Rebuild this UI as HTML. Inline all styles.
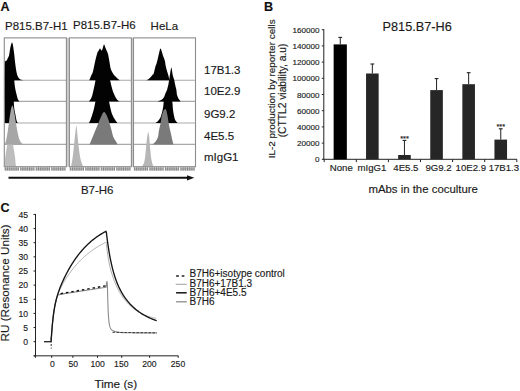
<!DOCTYPE html>
<html><head><meta charset="utf-8"><style>
html,body{margin:0;padding:0;background:#fff;}
svg{display:block;font-family:"Liberation Sans", sans-serif;}
text{stroke:#1a1a1a;stroke-width:0.15px;}
</style></head><body>
<svg width="520" height="391" viewBox="0 0 520 391">
<rect width="520" height="391" fill="#fff"/>
<text x="0.6" y="10.7" font-size="12.6" font-weight="bold" fill="#111">A</text>
<text x="5.0" y="29.6" font-size="11.5" fill="#1a1a1a">P815.B7-H1</text>
<text x="73.0" y="29.4" font-size="11.5" fill="#1a1a1a">P815.B7-H6</text>
<text x="150.6" y="29.7" font-size="11.5" fill="#1a1a1a">HeLa</text>
<rect x="66.4" y="37.9" width="3" height="128.79999999999998" fill="#cdcdcd"/>
<rect x="131.4" y="37.9" width="2.1" height="128.79999999999998" fill="#cdcdcd"/>
<defs>
<clipPath id="cb0"><rect x="4.3" y="37.9" width="62.10000000000001" height="128.79999999999998"/></clipPath>
<clipPath id="cb1"><rect x="69.4" y="37.9" width="62.0" height="128.79999999999998"/></clipPath>
<clipPath id="cb2"><rect x="133.5" y="37.9" width="62.0" height="128.79999999999998"/></clipPath>
</defs>
<line x1="4.3" y1="80.3" x2="66.4" y2="80.3" stroke="#a9a9a9" stroke-width="1.1"/>
<line x1="4.3" y1="101.4" x2="66.4" y2="101.4" stroke="#a9a9a9" stroke-width="1.1"/>
<line x1="4.3" y1="123.0" x2="66.4" y2="123.0" stroke="#a9a9a9" stroke-width="1.1"/>
<line x1="4.3" y1="144.4" x2="66.4" y2="144.4" stroke="#a9a9a9" stroke-width="1.1"/>
<line x1="69.4" y1="80.3" x2="131.4" y2="80.3" stroke="#a9a9a9" stroke-width="1.1"/>
<line x1="69.4" y1="101.4" x2="131.4" y2="101.4" stroke="#a9a9a9" stroke-width="1.1"/>
<line x1="69.4" y1="123.0" x2="131.4" y2="123.0" stroke="#a9a9a9" stroke-width="1.1"/>
<line x1="69.4" y1="144.4" x2="131.4" y2="144.4" stroke="#a9a9a9" stroke-width="1.1"/>
<line x1="133.5" y1="80.3" x2="195.5" y2="80.3" stroke="#a9a9a9" stroke-width="1.1"/>
<line x1="133.5" y1="101.4" x2="195.5" y2="101.4" stroke="#a9a9a9" stroke-width="1.1"/>
<line x1="133.5" y1="123.0" x2="195.5" y2="123.0" stroke="#a9a9a9" stroke-width="1.1"/>
<line x1="133.5" y1="144.4" x2="195.5" y2="144.4" stroke="#a9a9a9" stroke-width="1.1"/>
<g clip-path="url(#cb0)">
<path d="M4.30,80.30 C4.30,79.38 3.92,76.28 4.30,74.80 C4.68,73.32 5.93,73.70 6.60,71.40 C7.27,69.10 7.73,64.65 8.30,61.00 C8.87,57.35 9.52,52.28 10.00,49.50 C10.48,46.72 10.85,45.45 11.20,44.30 C11.55,43.15 11.82,42.50 12.10,42.60 C12.38,42.70 12.57,43.17 12.90,44.90 C13.23,46.63 13.72,49.93 14.10,53.00 C14.48,56.07 14.82,60.23 15.20,63.30 C15.58,66.37 15.92,69.10 16.40,71.40 C16.88,73.70 17.43,75.77 18.10,77.10 C18.77,78.43 19.43,78.87 20.40,79.40 C21.37,79.93 23.32,80.15 23.90,80.30 Z" fill="#030303"/>
<path d="M4.30,101.40 C4.30,95.50 3.85,72.90 4.30,66.00 C4.75,59.10 6.13,61.83 7.00,60.00 C7.87,58.17 8.78,56.17 9.50,55.00 C10.22,53.83 10.75,52.50 11.30,53.00 C11.85,53.50 12.40,55.50 12.80,58.00 C13.20,60.50 13.45,64.33 13.70,68.00 C13.95,71.67 14.15,77.33 14.30,80.00 C14.45,82.67 14.40,82.33 14.60,84.00 C14.80,85.67 15.15,88.17 15.50,90.00 C15.85,91.83 16.28,93.40 16.70,95.00 C17.12,96.60 17.53,98.53 18.00,99.60 C18.47,100.67 19.25,101.10 19.50,101.40 Z" fill="#030303"/>
<path d="M4.30,123.00 C4.30,117.50 3.85,96.17 4.30,90.00 C4.75,83.83 6.13,87.17 7.00,86.00 C7.87,84.83 8.78,83.67 9.50,83.00 C10.22,82.33 10.78,81.17 11.30,82.00 C11.82,82.83 12.25,85.67 12.60,88.00 C12.95,90.33 13.20,93.77 13.40,96.00 C13.60,98.23 13.65,99.28 13.80,101.40 C13.95,103.52 14.02,106.45 14.30,108.70 C14.58,110.95 15.10,112.85 15.50,114.90 C15.90,116.95 16.28,119.65 16.70,121.00 C17.12,122.35 17.78,122.67 18.00,123.00 Z" fill="#030303"/>
<path d="M4.30,166.70 C4.42,165.37 4.70,161.23 5.00,158.70 C5.30,156.17 5.75,153.72 6.10,151.50 C6.45,149.28 6.70,147.98 7.10,145.40 C7.50,142.82 7.88,139.07 8.50,136.00 C9.12,132.93 10.17,127.83 10.80,127.00 C11.43,126.17 11.90,127.93 12.30,131.00 C12.70,134.07 12.88,141.98 13.20,145.40 C13.52,148.82 13.87,149.28 14.20,151.50 C14.53,153.72 14.93,156.47 15.20,158.70 C15.47,160.93 15.62,163.57 15.80,164.90 C15.98,166.23 16.22,166.40 16.30,166.70 Z" fill="#bdbdbd"/>
<path d="M4.30,144.40 C4.33,144.32 4.28,144.25 4.50,143.90 C4.72,143.55 5.17,143.75 5.60,142.30 C6.03,140.85 6.60,138.08 7.10,135.20 C7.60,132.32 8.03,128.87 8.60,125.00 C9.17,121.13 9.87,115.23 10.50,112.00 C11.13,108.77 11.78,105.60 12.40,105.60 C13.02,105.60 13.55,108.77 14.20,112.00 C14.85,115.23 15.70,121.47 16.30,125.00 C16.90,128.53 17.30,130.82 17.80,133.20 C18.30,135.58 18.62,137.60 19.30,139.30 C19.98,141.00 20.68,142.55 21.90,143.40 C23.12,144.25 25.82,144.23 26.60,144.40 Z" fill="#a6a6a6"/>
</g>
<g clip-path="url(#cb1)">
<path d="M89.30,80.30 C89.58,79.58 90.40,77.42 91.00,76.00 C91.60,74.58 92.23,74.13 92.90,71.80 C93.57,69.47 94.27,65.13 95.00,62.00 C95.73,58.87 96.72,54.83 97.30,53.00 C97.88,51.17 98.05,51.75 98.50,51.00 C98.95,50.25 99.50,48.58 100.00,48.50 C100.50,48.42 101.08,50.42 101.50,50.50 C101.92,50.58 102.08,49.98 102.50,49.00 C102.92,48.02 103.50,44.77 104.00,44.60 C104.50,44.43 104.83,46.43 105.50,48.00 C106.17,49.57 107.33,51.67 108.00,54.00 C108.67,56.33 109.03,59.50 109.50,62.00 C109.97,64.50 110.22,67.08 110.80,69.00 C111.38,70.92 112.30,72.33 113.00,73.50 C113.70,74.67 114.25,75.17 115.00,76.00 C115.75,76.83 116.72,77.78 117.50,78.50 C118.28,79.22 119.33,80.00 119.70,80.30 Z" fill="#030303"/>
<path d="M89.00,101.40 C89.45,100.67 90.95,98.90 91.70,97.00 C92.45,95.10 92.92,92.50 93.50,90.00 C94.08,87.50 94.62,85.00 95.20,82.00 C95.78,79.00 96.28,75.17 97.00,72.00 C97.72,68.83 98.67,65.33 99.50,63.00 C100.33,60.67 101.17,58.50 102.00,58.00 C102.83,57.50 103.67,58.50 104.50,60.00 C105.33,61.50 106.25,64.50 107.00,67.00 C107.75,69.50 108.42,72.50 109.00,75.00 C109.58,77.50 109.92,79.50 110.50,82.00 C111.08,84.50 111.68,87.50 112.50,90.00 C113.32,92.50 114.57,95.33 115.40,97.00 C116.23,98.67 116.82,99.27 117.50,100.00 C118.18,100.73 119.17,101.17 119.50,101.40 Z" fill="#030303"/>
<path d="M89.00,123.00 C89.23,122.50 89.87,121.38 90.40,120.00 C90.93,118.62 91.60,116.63 92.20,114.70 C92.80,112.77 93.48,110.48 94.00,108.40 C94.52,106.32 94.88,104.27 95.30,102.20 C95.72,100.13 95.88,98.03 96.50,96.00 C97.12,93.97 98.08,91.50 99.00,90.00 C99.92,88.50 101.00,87.17 102.00,87.00 C103.00,86.83 104.08,87.83 105.00,89.00 C105.92,90.17 106.80,91.80 107.50,94.00 C108.20,96.20 108.70,99.80 109.20,102.20 C109.70,104.60 110.05,106.47 110.50,108.40 C110.95,110.33 111.30,112.15 111.90,113.80 C112.50,115.45 113.28,116.88 114.10,118.30 C114.92,119.72 116.23,121.52 116.80,122.30 C117.37,123.08 117.38,122.88 117.50,123.00 Z" fill="#030303"/>
<path d="M89.60,144.40 C90.03,143.33 91.27,140.27 92.20,138.00 C93.13,135.73 94.18,133.25 95.20,130.80 C96.22,128.35 97.27,125.75 98.30,123.30 C99.33,120.85 100.58,117.88 101.40,116.10 C102.22,114.32 102.70,113.28 103.20,112.60 C103.70,111.92 104.00,111.83 104.40,112.00 C104.80,112.17 105.17,112.92 105.60,113.60 C106.03,114.28 106.33,114.48 107.00,116.10 C107.67,117.72 108.83,120.90 109.60,123.30 C110.37,125.70 111.02,128.32 111.60,130.50 C112.18,132.68 112.42,134.67 113.10,136.40 C113.78,138.13 114.93,139.57 115.70,140.90 C116.47,142.23 117.37,143.82 117.70,144.40 Z" fill="#7a7a7a"/>
<path d="M71.10,166.70 C71.20,166.08 71.40,164.85 71.70,163.00 C72.00,161.15 72.50,158.68 72.90,155.60 C73.30,152.52 73.68,148.38 74.10,144.50 C74.52,140.62 75.03,135.47 75.40,132.30 C75.77,129.13 76.00,125.50 76.30,125.50 C76.60,125.50 76.85,129.13 77.20,132.30 C77.55,135.47 77.98,140.82 78.40,144.50 C78.82,148.18 79.28,151.73 79.70,154.40 C80.12,157.07 80.50,158.87 80.90,160.50 C81.30,162.13 81.70,163.17 82.10,164.20 C82.50,165.23 83.10,166.28 83.30,166.70 Z" fill="#b6b6b6"/>
</g>
<g clip-path="url(#cb2)">
<path d="M146.00,80.30 C146.33,80.17 147.33,79.92 148.00,79.50 C148.67,79.08 149.33,78.47 150.00,77.80 C150.67,77.13 151.40,76.17 152.00,75.50 C152.60,74.83 153.03,75.28 153.60,73.80 C154.17,72.32 154.88,68.40 155.40,66.60 C155.92,64.80 156.27,64.48 156.70,63.00 C157.13,61.52 157.58,59.45 158.00,57.70 C158.42,55.95 158.80,54.03 159.20,52.50 C159.60,50.97 160.02,48.83 160.40,48.50 C160.78,48.17 161.15,49.58 161.50,50.50 C161.85,51.42 162.18,52.95 162.50,54.00 C162.82,55.05 163.02,55.73 163.40,56.80 C163.78,57.87 164.42,58.92 164.80,60.40 C165.18,61.88 165.33,63.92 165.70,65.70 C166.07,67.48 166.55,69.45 167.00,71.10 C167.45,72.75 168.03,74.25 168.40,75.60 C168.77,76.95 169.00,78.42 169.20,79.20 C169.40,79.98 169.53,80.12 169.60,80.30 Z" fill="#030303"/>
<path d="M157.70,101.40 C158.35,101.13 160.57,100.50 161.60,99.80 C162.63,99.10 163.22,98.38 163.90,97.20 C164.58,96.02 165.18,93.90 165.70,92.70 C166.22,91.50 166.70,90.78 167.00,90.00 C167.30,89.22 167.27,88.92 167.50,88.00 C167.73,87.08 168.12,85.90 168.40,84.50 C168.68,83.10 168.92,81.38 169.20,79.60 C169.48,77.82 169.75,75.82 170.10,73.80 C170.45,71.78 170.98,68.10 171.30,67.50 C171.62,66.90 171.75,68.85 172.00,70.20 C172.25,71.55 172.43,73.97 172.80,75.60 C173.17,77.23 173.75,78.22 174.20,80.00 C174.65,81.78 175.13,84.63 175.50,86.30 C175.87,87.97 176.17,88.63 176.40,90.00 C176.63,91.37 176.60,93.17 176.90,94.50 C177.20,95.83 177.62,96.88 178.20,98.00 C178.78,99.12 179.93,100.63 180.40,101.20 C180.87,101.77 180.90,101.37 181.00,101.40 Z" fill="#030303"/>
<path d="M155.40,123.00 C155.83,122.65 157.12,121.92 158.00,120.90 C158.88,119.88 159.95,118.62 160.70,116.90 C161.45,115.18 162.05,112.55 162.50,110.60 C162.95,108.65 163.15,106.97 163.40,105.20 C163.65,103.43 163.57,101.53 164.00,100.00 C164.43,98.47 165.25,96.83 166.00,96.00 C166.75,95.17 167.75,94.83 168.50,95.00 C169.25,95.17 169.85,95.75 170.50,97.00 C171.15,98.25 172.02,100.68 172.40,102.50 C172.78,104.32 172.58,105.95 172.80,107.90 C173.02,109.85 173.33,112.27 173.70,114.20 C174.07,116.13 174.47,118.17 175.00,119.50 C175.53,120.83 176.48,121.62 176.90,122.20 C177.32,122.78 177.40,122.87 177.50,123.00 Z" fill="#030303"/>
<path d="M152.50,144.40 C152.95,144.00 154.30,143.20 155.20,142.00 C156.10,140.80 157.28,139.07 157.90,137.20 C158.52,135.33 158.45,133.12 158.90,130.80 C159.35,128.48 160.15,125.63 160.60,123.30 C161.05,120.97 161.17,118.78 161.60,116.80 C162.03,114.82 162.65,112.65 163.20,111.40 C163.75,110.15 164.42,109.57 164.90,109.30 C165.38,109.03 165.67,108.73 166.10,109.80 C166.53,110.87 167.00,113.10 167.50,115.70 C168.00,118.30 168.55,122.53 169.10,125.40 C169.65,128.27 170.25,130.40 170.80,132.90 C171.35,135.40 171.97,138.48 172.40,140.40 C172.83,142.32 173.23,143.73 173.40,144.40 Z" fill="#7a7a7a"/>
<path d="M141.60,166.70 C141.92,166.25 142.93,165.45 143.50,164.00 C144.07,162.55 144.53,161.17 145.00,158.00 C145.47,154.83 145.93,148.50 146.30,145.00 C146.67,141.50 146.88,139.18 147.20,137.00 C147.52,134.82 147.87,131.90 148.20,131.90 C148.53,131.90 148.85,133.98 149.20,137.00 C149.55,140.02 149.92,146.17 150.30,150.00 C150.68,153.83 151.00,157.22 151.50,160.00 C152.00,162.78 153.00,165.58 153.30,166.70 Z" fill="#b6b6b6"/>
</g>
<rect x="4.3" y="37.9" width="62.10000000000001" height="128.79999999999998" fill="none" stroke="#8c8c8c" stroke-width="1.1"/>
<rect x="69.4" y="37.9" width="62.0" height="128.79999999999998" fill="none" stroke="#8c8c8c" stroke-width="1.1"/>
<rect x="133.5" y="37.9" width="62.0" height="128.79999999999998" fill="none" stroke="#8c8c8c" stroke-width="1.1"/>
<rect x="4.80" y="167.29999999999998" width="14.03" height="3.3" fill="#b8b8b8"/>
<line x1="5.20" y1="167.29999999999998" x2="5.20" y2="170.6" stroke="#787878" stroke-width="0.8"/>
<line x1="7.40" y1="167.29999999999998" x2="7.40" y2="170.6" stroke="#787878" stroke-width="0.8"/>
<line x1="9.60" y1="167.29999999999998" x2="9.60" y2="170.6" stroke="#787878" stroke-width="0.8"/>
<line x1="11.80" y1="167.29999999999998" x2="11.80" y2="170.6" stroke="#787878" stroke-width="0.8"/>
<line x1="14.00" y1="167.29999999999998" x2="14.00" y2="170.6" stroke="#787878" stroke-width="0.8"/>
<line x1="16.20" y1="167.29999999999998" x2="16.20" y2="170.6" stroke="#787878" stroke-width="0.8"/>
<line x1="18.40" y1="167.29999999999998" x2="18.40" y2="170.6" stroke="#787878" stroke-width="0.8"/>
<rect x="20.33" y="167.29999999999998" width="14.02" height="3.3" fill="#b8b8b8"/>
<line x1="20.73" y1="167.29999999999998" x2="20.73" y2="170.6" stroke="#787878" stroke-width="0.8"/>
<line x1="22.93" y1="167.29999999999998" x2="22.93" y2="170.6" stroke="#787878" stroke-width="0.8"/>
<line x1="25.12" y1="167.29999999999998" x2="25.12" y2="170.6" stroke="#787878" stroke-width="0.8"/>
<line x1="27.32" y1="167.29999999999998" x2="27.32" y2="170.6" stroke="#787878" stroke-width="0.8"/>
<line x1="29.52" y1="167.29999999999998" x2="29.52" y2="170.6" stroke="#787878" stroke-width="0.8"/>
<line x1="31.72" y1="167.29999999999998" x2="31.72" y2="170.6" stroke="#787878" stroke-width="0.8"/>
<line x1="33.92" y1="167.29999999999998" x2="33.92" y2="170.6" stroke="#787878" stroke-width="0.8"/>
<rect x="35.85" y="167.29999999999998" width="14.02" height="3.3" fill="#b8b8b8"/>
<line x1="36.25" y1="167.29999999999998" x2="36.25" y2="170.6" stroke="#787878" stroke-width="0.8"/>
<line x1="38.45" y1="167.29999999999998" x2="38.45" y2="170.6" stroke="#787878" stroke-width="0.8"/>
<line x1="40.65" y1="167.29999999999998" x2="40.65" y2="170.6" stroke="#787878" stroke-width="0.8"/>
<line x1="42.85" y1="167.29999999999998" x2="42.85" y2="170.6" stroke="#787878" stroke-width="0.8"/>
<line x1="45.05" y1="167.29999999999998" x2="45.05" y2="170.6" stroke="#787878" stroke-width="0.8"/>
<line x1="47.25" y1="167.29999999999998" x2="47.25" y2="170.6" stroke="#787878" stroke-width="0.8"/>
<line x1="49.45" y1="167.29999999999998" x2="49.45" y2="170.6" stroke="#787878" stroke-width="0.8"/>
<rect x="51.38" y="167.29999999999998" width="14.03" height="3.3" fill="#b8b8b8"/>
<line x1="51.77" y1="167.29999999999998" x2="51.77" y2="170.6" stroke="#787878" stroke-width="0.8"/>
<line x1="53.98" y1="167.29999999999998" x2="53.98" y2="170.6" stroke="#787878" stroke-width="0.8"/>
<line x1="56.18" y1="167.29999999999998" x2="56.18" y2="170.6" stroke="#787878" stroke-width="0.8"/>
<line x1="58.38" y1="167.29999999999998" x2="58.38" y2="170.6" stroke="#787878" stroke-width="0.8"/>
<line x1="60.58" y1="167.29999999999998" x2="60.58" y2="170.6" stroke="#787878" stroke-width="0.8"/>
<line x1="62.78" y1="167.29999999999998" x2="62.78" y2="170.6" stroke="#787878" stroke-width="0.8"/>
<line x1="64.98" y1="167.29999999999998" x2="64.98" y2="170.6" stroke="#787878" stroke-width="0.8"/>
<rect x="69.90" y="167.29999999999998" width="14.00" height="3.3" fill="#b8b8b8"/>
<line x1="70.30" y1="167.29999999999998" x2="70.30" y2="170.6" stroke="#787878" stroke-width="0.8"/>
<line x1="72.50" y1="167.29999999999998" x2="72.50" y2="170.6" stroke="#787878" stroke-width="0.8"/>
<line x1="74.70" y1="167.29999999999998" x2="74.70" y2="170.6" stroke="#787878" stroke-width="0.8"/>
<line x1="76.90" y1="167.29999999999998" x2="76.90" y2="170.6" stroke="#787878" stroke-width="0.8"/>
<line x1="79.10" y1="167.29999999999998" x2="79.10" y2="170.6" stroke="#787878" stroke-width="0.8"/>
<line x1="81.30" y1="167.29999999999998" x2="81.30" y2="170.6" stroke="#787878" stroke-width="0.8"/>
<line x1="83.50" y1="167.29999999999998" x2="83.50" y2="170.6" stroke="#787878" stroke-width="0.8"/>
<rect x="85.40" y="167.29999999999998" width="14.00" height="3.3" fill="#b8b8b8"/>
<line x1="85.80" y1="167.29999999999998" x2="85.80" y2="170.6" stroke="#787878" stroke-width="0.8"/>
<line x1="88.00" y1="167.29999999999998" x2="88.00" y2="170.6" stroke="#787878" stroke-width="0.8"/>
<line x1="90.20" y1="167.29999999999998" x2="90.20" y2="170.6" stroke="#787878" stroke-width="0.8"/>
<line x1="92.40" y1="167.29999999999998" x2="92.40" y2="170.6" stroke="#787878" stroke-width="0.8"/>
<line x1="94.60" y1="167.29999999999998" x2="94.60" y2="170.6" stroke="#787878" stroke-width="0.8"/>
<line x1="96.80" y1="167.29999999999998" x2="96.80" y2="170.6" stroke="#787878" stroke-width="0.8"/>
<line x1="99.00" y1="167.29999999999998" x2="99.00" y2="170.6" stroke="#787878" stroke-width="0.8"/>
<rect x="100.90" y="167.29999999999998" width="14.00" height="3.3" fill="#b8b8b8"/>
<line x1="101.30" y1="167.29999999999998" x2="101.30" y2="170.6" stroke="#787878" stroke-width="0.8"/>
<line x1="103.50" y1="167.29999999999998" x2="103.50" y2="170.6" stroke="#787878" stroke-width="0.8"/>
<line x1="105.70" y1="167.29999999999998" x2="105.70" y2="170.6" stroke="#787878" stroke-width="0.8"/>
<line x1="107.90" y1="167.29999999999998" x2="107.90" y2="170.6" stroke="#787878" stroke-width="0.8"/>
<line x1="110.10" y1="167.29999999999998" x2="110.10" y2="170.6" stroke="#787878" stroke-width="0.8"/>
<line x1="112.30" y1="167.29999999999998" x2="112.30" y2="170.6" stroke="#787878" stroke-width="0.8"/>
<line x1="114.50" y1="167.29999999999998" x2="114.50" y2="170.6" stroke="#787878" stroke-width="0.8"/>
<rect x="116.40" y="167.29999999999998" width="14.00" height="3.3" fill="#b8b8b8"/>
<line x1="116.80" y1="167.29999999999998" x2="116.80" y2="170.6" stroke="#787878" stroke-width="0.8"/>
<line x1="119.00" y1="167.29999999999998" x2="119.00" y2="170.6" stroke="#787878" stroke-width="0.8"/>
<line x1="121.20" y1="167.29999999999998" x2="121.20" y2="170.6" stroke="#787878" stroke-width="0.8"/>
<line x1="123.40" y1="167.29999999999998" x2="123.40" y2="170.6" stroke="#787878" stroke-width="0.8"/>
<line x1="125.60" y1="167.29999999999998" x2="125.60" y2="170.6" stroke="#787878" stroke-width="0.8"/>
<line x1="127.80" y1="167.29999999999998" x2="127.80" y2="170.6" stroke="#787878" stroke-width="0.8"/>
<line x1="130.00" y1="167.29999999999998" x2="130.00" y2="170.6" stroke="#787878" stroke-width="0.8"/>
<rect x="134.00" y="167.29999999999998" width="14.00" height="3.3" fill="#b8b8b8"/>
<line x1="134.40" y1="167.29999999999998" x2="134.40" y2="170.6" stroke="#787878" stroke-width="0.8"/>
<line x1="136.60" y1="167.29999999999998" x2="136.60" y2="170.6" stroke="#787878" stroke-width="0.8"/>
<line x1="138.80" y1="167.29999999999998" x2="138.80" y2="170.6" stroke="#787878" stroke-width="0.8"/>
<line x1="141.00" y1="167.29999999999998" x2="141.00" y2="170.6" stroke="#787878" stroke-width="0.8"/>
<line x1="143.20" y1="167.29999999999998" x2="143.20" y2="170.6" stroke="#787878" stroke-width="0.8"/>
<line x1="145.40" y1="167.29999999999998" x2="145.40" y2="170.6" stroke="#787878" stroke-width="0.8"/>
<line x1="147.60" y1="167.29999999999998" x2="147.60" y2="170.6" stroke="#787878" stroke-width="0.8"/>
<rect x="149.50" y="167.29999999999998" width="14.00" height="3.3" fill="#b8b8b8"/>
<line x1="149.90" y1="167.29999999999998" x2="149.90" y2="170.6" stroke="#787878" stroke-width="0.8"/>
<line x1="152.10" y1="167.29999999999998" x2="152.10" y2="170.6" stroke="#787878" stroke-width="0.8"/>
<line x1="154.30" y1="167.29999999999998" x2="154.30" y2="170.6" stroke="#787878" stroke-width="0.8"/>
<line x1="156.50" y1="167.29999999999998" x2="156.50" y2="170.6" stroke="#787878" stroke-width="0.8"/>
<line x1="158.70" y1="167.29999999999998" x2="158.70" y2="170.6" stroke="#787878" stroke-width="0.8"/>
<line x1="160.90" y1="167.29999999999998" x2="160.90" y2="170.6" stroke="#787878" stroke-width="0.8"/>
<line x1="163.10" y1="167.29999999999998" x2="163.10" y2="170.6" stroke="#787878" stroke-width="0.8"/>
<rect x="165.00" y="167.29999999999998" width="14.00" height="3.3" fill="#b8b8b8"/>
<line x1="165.40" y1="167.29999999999998" x2="165.40" y2="170.6" stroke="#787878" stroke-width="0.8"/>
<line x1="167.60" y1="167.29999999999998" x2="167.60" y2="170.6" stroke="#787878" stroke-width="0.8"/>
<line x1="169.80" y1="167.29999999999998" x2="169.80" y2="170.6" stroke="#787878" stroke-width="0.8"/>
<line x1="172.00" y1="167.29999999999998" x2="172.00" y2="170.6" stroke="#787878" stroke-width="0.8"/>
<line x1="174.20" y1="167.29999999999998" x2="174.20" y2="170.6" stroke="#787878" stroke-width="0.8"/>
<line x1="176.40" y1="167.29999999999998" x2="176.40" y2="170.6" stroke="#787878" stroke-width="0.8"/>
<line x1="178.60" y1="167.29999999999998" x2="178.60" y2="170.6" stroke="#787878" stroke-width="0.8"/>
<rect x="180.50" y="167.29999999999998" width="14.00" height="3.3" fill="#b8b8b8"/>
<line x1="180.90" y1="167.29999999999998" x2="180.90" y2="170.6" stroke="#787878" stroke-width="0.8"/>
<line x1="183.10" y1="167.29999999999998" x2="183.10" y2="170.6" stroke="#787878" stroke-width="0.8"/>
<line x1="185.30" y1="167.29999999999998" x2="185.30" y2="170.6" stroke="#787878" stroke-width="0.8"/>
<line x1="187.50" y1="167.29999999999998" x2="187.50" y2="170.6" stroke="#787878" stroke-width="0.8"/>
<line x1="189.70" y1="167.29999999999998" x2="189.70" y2="170.6" stroke="#787878" stroke-width="0.8"/>
<line x1="191.90" y1="167.29999999999998" x2="191.90" y2="170.6" stroke="#787878" stroke-width="0.8"/>
<line x1="194.10" y1="167.29999999999998" x2="194.10" y2="170.6" stroke="#787878" stroke-width="0.8"/>
<text x="204.0" y="73.9" font-size="11.5" fill="#1a1a1a">17B1.3</text>
<text x="204.0" y="94.8" font-size="11.5" fill="#1a1a1a">10E2.9</text>
<text x="204.0" y="117.7" font-size="11.5" fill="#1a1a1a">9G9.2</text>
<text x="204.0" y="139.7" font-size="11.5" fill="#1a1a1a">4E5.5</text>
<text x="204.0" y="160.9" font-size="11.5" fill="#1a1a1a">mIgG1</text>
<line x1="8.5" y1="177.8" x2="188" y2="177.8" stroke="#111" stroke-width="1.9"/>
<path d="M187,175.2 L194.3,177.8 L187,180.4 Z" fill="#111"/>
<text x="80.9" y="193.8" font-size="11.5" fill="#1a1a1a">B7-H6</text>
<text x="264.0" y="10.5" font-size="12.6" font-weight="bold" fill="#111">B</text>
<text x="382.6" y="30.9" font-size="12.7" fill="#1a1a1a">P815.B7-H6</text>
<line x1="323.8" y1="29.200000000000017" x2="323.8" y2="159.3" stroke="#222" stroke-width="1"/>
<line x1="321.8" y1="159.30" x2="323.8" y2="159.30" stroke="#222" stroke-width="1"/>
<text x="319.5" y="162.30" font-size="8.1" text-anchor="end" fill="#1a1a1a">0</text>
<line x1="321.8" y1="143.10" x2="323.8" y2="143.10" stroke="#222" stroke-width="1"/>
<text x="319.5" y="146.10" font-size="8.1" text-anchor="end" fill="#1a1a1a">20000</text>
<line x1="321.8" y1="126.90" x2="323.8" y2="126.90" stroke="#222" stroke-width="1"/>
<text x="319.5" y="129.90" font-size="8.1" text-anchor="end" fill="#1a1a1a">40000</text>
<line x1="321.8" y1="110.70" x2="323.8" y2="110.70" stroke="#222" stroke-width="1"/>
<text x="319.5" y="113.70" font-size="8.1" text-anchor="end" fill="#1a1a1a">60000</text>
<line x1="321.8" y1="94.50" x2="323.8" y2="94.50" stroke="#222" stroke-width="1"/>
<text x="319.5" y="97.50" font-size="8.1" text-anchor="end" fill="#1a1a1a">80000</text>
<line x1="321.8" y1="78.30" x2="323.8" y2="78.30" stroke="#222" stroke-width="1"/>
<text x="319.5" y="81.30" font-size="8.1" text-anchor="end" fill="#1a1a1a">100000</text>
<line x1="321.8" y1="62.10" x2="323.8" y2="62.10" stroke="#222" stroke-width="1"/>
<text x="319.5" y="65.10" font-size="8.1" text-anchor="end" fill="#1a1a1a">120000</text>
<line x1="321.8" y1="45.90" x2="323.8" y2="45.90" stroke="#222" stroke-width="1"/>
<text x="319.5" y="48.90" font-size="8.1" text-anchor="end" fill="#1a1a1a">140000</text>
<line x1="321.8" y1="29.70" x2="323.8" y2="29.70" stroke="#222" stroke-width="1"/>
<text x="319.5" y="32.70" font-size="8.1" text-anchor="end" fill="#1a1a1a">160000</text>
<line x1="323.3" y1="159.3" x2="516.9" y2="159.3" stroke="#222" stroke-width="1"/>
<line x1="324.20" y1="159.3" x2="324.20" y2="162.10000000000002" stroke="#222" stroke-width="1"/>
<line x1="356.30" y1="159.3" x2="356.30" y2="162.10000000000002" stroke="#222" stroke-width="1"/>
<line x1="388.40" y1="159.3" x2="388.40" y2="162.10000000000002" stroke="#222" stroke-width="1"/>
<line x1="420.50" y1="159.3" x2="420.50" y2="162.10000000000002" stroke="#222" stroke-width="1"/>
<line x1="452.60" y1="159.3" x2="452.60" y2="162.10000000000002" stroke="#222" stroke-width="1"/>
<line x1="484.70" y1="159.3" x2="484.70" y2="162.10000000000002" stroke="#222" stroke-width="1"/>
<line x1="516.80" y1="159.3" x2="516.80" y2="162.10000000000002" stroke="#222" stroke-width="1"/>
<line x1="340.25" y1="37.4" x2="340.25" y2="44.4" stroke="#222" stroke-width="1"/>
<line x1="338.35" y1="37.4" x2="342.15" y2="37.4" stroke="#222" stroke-width="1.1"/>
<rect x="333.65" y="44.4" width="13.2" height="114.90" fill="#000"/>
<text x="341.30" y="170.7" font-size="9.65" text-anchor="middle" fill="#1a1a1a">None</text>
<line x1="372.35" y1="64.0" x2="372.35" y2="73.5" stroke="#222" stroke-width="1"/>
<line x1="370.45" y1="64.0" x2="374.25" y2="64.0" stroke="#222" stroke-width="1.1"/>
<rect x="366.05" y="73.5" width="12.6" height="85.80" fill="#262626"/>
<text x="372.00" y="170.7" font-size="9.65" text-anchor="middle" fill="#1a1a1a">mIgG1</text>
<line x1="404.45" y1="140.4" x2="404.45" y2="155.0" stroke="#222" stroke-width="1"/>
<line x1="402.55" y1="140.4" x2="406.35" y2="140.4" stroke="#222" stroke-width="1.1"/>
<rect x="398.15" y="155.0" width="12.6" height="4.30" fill="#262626"/>
<text x="405.90" y="170.7" font-size="9.65" text-anchor="middle" fill="#1a1a1a">4E5.5</text>
<text x="404.45" y="140.50" font-size="7.4" text-anchor="middle" fill="#1a1a1a">***</text>
<line x1="436.55" y1="78.6" x2="436.55" y2="90.1" stroke="#222" stroke-width="1"/>
<line x1="434.65" y1="78.6" x2="438.45" y2="78.6" stroke="#222" stroke-width="1.1"/>
<rect x="430.25" y="90.1" width="12.6" height="69.20" fill="#262626"/>
<text x="438.50" y="170.7" font-size="9.65" text-anchor="middle" fill="#1a1a1a">9G9.2</text>
<line x1="468.65" y1="72.7" x2="468.65" y2="84.2" stroke="#222" stroke-width="1"/>
<line x1="466.75" y1="72.7" x2="470.55" y2="72.7" stroke="#222" stroke-width="1.1"/>
<rect x="462.35" y="84.2" width="12.6" height="75.10" fill="#262626"/>
<text x="470.80" y="170.7" font-size="9.65" text-anchor="middle" fill="#1a1a1a">10E2.9</text>
<line x1="500.75" y1="128.8" x2="500.75" y2="139.6" stroke="#222" stroke-width="1"/>
<line x1="498.85" y1="128.8" x2="502.65" y2="128.8" stroke="#222" stroke-width="1.1"/>
<rect x="494.45" y="139.6" width="12.6" height="19.70" fill="#262626"/>
<text x="503.90" y="170.7" font-size="9.65" text-anchor="middle" fill="#1a1a1a">17B1.3</text>
<text x="500.75" y="128.90" font-size="7.4" text-anchor="middle" fill="#1a1a1a">***</text>
<text x="368.4" y="192.6" font-size="11.4" fill="#1a1a1a">mAbs in the coculture</text>
<text transform="translate(274.6,88.85) rotate(-90)" font-size="9.9" text-anchor="middle" fill="#1a1a1a">IL-2 production by reporter cells</text>
<text transform="translate(286.3,90.45) rotate(-90)" font-size="10.25" text-anchor="middle" fill="#1a1a1a">(CTTL2 viability, a.u)</text>
<text x="0.6" y="212" font-size="12.6" font-weight="bold" fill="#111">C</text>
<line x1="35.5" y1="213.94" x2="35.5" y2="355.84" stroke="#222" stroke-width="1"/>
<line x1="33.5" y1="355.84" x2="35.5" y2="355.84" stroke="#222" stroke-width="1"/>
<line x1="33.5" y1="341.70" x2="35.5" y2="341.70" stroke="#222" stroke-width="1"/>
<text transform="translate(28.0,345.00) scale(0.88,1)" font-size="9.8" text-anchor="end" fill="#1a1a1a">0</text>
<line x1="33.5" y1="327.56" x2="35.5" y2="327.56" stroke="#222" stroke-width="1"/>
<text transform="translate(28.0,330.86) scale(0.88,1)" font-size="9.8" text-anchor="end" fill="#1a1a1a">5</text>
<line x1="33.5" y1="313.42" x2="35.5" y2="313.42" stroke="#222" stroke-width="1"/>
<text transform="translate(28.0,316.72) scale(0.88,1)" font-size="9.8" text-anchor="end" fill="#1a1a1a">10</text>
<line x1="33.5" y1="299.28" x2="35.5" y2="299.28" stroke="#222" stroke-width="1"/>
<text transform="translate(28.0,302.58) scale(0.88,1)" font-size="9.8" text-anchor="end" fill="#1a1a1a">15</text>
<line x1="33.5" y1="285.14" x2="35.5" y2="285.14" stroke="#222" stroke-width="1"/>
<text transform="translate(28.0,288.44) scale(0.88,1)" font-size="9.8" text-anchor="end" fill="#1a1a1a">20</text>
<line x1="33.5" y1="271.00" x2="35.5" y2="271.00" stroke="#222" stroke-width="1"/>
<text transform="translate(28.0,274.30) scale(0.88,1)" font-size="9.8" text-anchor="end" fill="#1a1a1a">25</text>
<line x1="33.5" y1="256.86" x2="35.5" y2="256.86" stroke="#222" stroke-width="1"/>
<text transform="translate(28.0,260.16) scale(0.88,1)" font-size="9.8" text-anchor="end" fill="#1a1a1a">30</text>
<line x1="33.5" y1="242.72" x2="35.5" y2="242.72" stroke="#222" stroke-width="1"/>
<text transform="translate(28.0,246.02) scale(0.88,1)" font-size="9.8" text-anchor="end" fill="#1a1a1a">35</text>
<line x1="33.5" y1="228.58" x2="35.5" y2="228.58" stroke="#222" stroke-width="1"/>
<text transform="translate(28.0,231.88) scale(0.88,1)" font-size="9.8" text-anchor="end" fill="#1a1a1a">40</text>
<line x1="33.5" y1="214.44" x2="35.5" y2="214.44" stroke="#222" stroke-width="1"/>
<text transform="translate(28.0,217.74) scale(0.88,1)" font-size="9.8" text-anchor="end" fill="#1a1a1a">45</text>
<line x1="33.8" y1="355.84" x2="178.4" y2="355.84" stroke="#222" stroke-width="1"/>
<line x1="35.4" y1="355.84" x2="35.4" y2="357.84" stroke="#222" stroke-width="1"/>
<line x1="51.7" y1="355.84" x2="51.7" y2="357.84" stroke="#222" stroke-width="1"/>
<line x1="72.9" y1="355.84" x2="72.9" y2="357.84" stroke="#222" stroke-width="1"/>
<line x1="97.5" y1="355.84" x2="97.5" y2="357.84" stroke="#222" stroke-width="1"/>
<line x1="121.7" y1="355.84" x2="121.7" y2="357.84" stroke="#222" stroke-width="1"/>
<line x1="149.6" y1="355.84" x2="149.6" y2="357.84" stroke="#222" stroke-width="1"/>
<line x1="178.2" y1="355.84" x2="178.2" y2="357.84" stroke="#222" stroke-width="1"/>
<text transform="translate(52.5,367.4) scale(0.88,1)" font-size="9.8" text-anchor="middle" fill="#1a1a1a">0</text>
<text transform="translate(73.2,367.4) scale(0.88,1)" font-size="9.8" text-anchor="middle" fill="#1a1a1a">50</text>
<text transform="translate(97.7,367.4) scale(0.88,1)" font-size="9.8" text-anchor="middle" fill="#1a1a1a">100</text>
<text transform="translate(121.3,367.4) scale(0.88,1)" font-size="9.8" text-anchor="middle" fill="#1a1a1a">150</text>
<text transform="translate(149.4,367.4) scale(0.88,1)" font-size="9.8" text-anchor="middle" fill="#1a1a1a">200</text>
<text transform="translate(178.0,367.4) scale(0.88,1)" font-size="9.8" text-anchor="middle" fill="#1a1a1a">250</text>
<text x="94.4" y="387.6" font-size="11.8" fill="#1a1a1a">Time (s)</text>
<text transform="translate(9.1,283) rotate(-90)" font-size="11.7" text-anchor="middle" fill="#1a1a1a">RU (Resonance Units)</text>
<path d="M51.10,341.60 L51.35,337.60 L51.60,333.93 L51.85,330.58 L52.10,327.51 L52.35,324.68 L52.60,322.09 L52.85,319.69 L53.10,317.49 L53.35,315.45 L53.60,313.56 L53.85,311.81 L54.10,310.18 L54.35,308.66 L54.60,307.24 L54.85,305.91 L55.10,304.67 L55.35,303.50 L55.60,302.40 L55.85,301.36 L56.00,300.76 L56.30,299.62 L56.90,297.54 L57.50,295.67 L58.10,293.97 L58.70,292.41 L59.30,290.96 L59.90,289.60 L60.50,288.32 L61.10,287.10 L61.70,285.93 L62.30,284.80 L62.90,283.71 L63.50,282.66 L64.10,281.63 L64.70,280.64 L65.30,279.66 L65.90,278.71 L66.50,277.78 L67.10,276.87 L67.70,275.98 L68.30,275.10 L68.90,274.25 L69.50,273.40 L70.10,272.58 L70.70,271.76 L71.30,270.97 L71.90,270.18 L72.50,269.42 L73.10,268.66 L73.70,267.92 L74.30,267.19 L74.90,266.47 L75.50,265.77 L76.10,265.08 L76.70,264.40 L77.30,263.73 L77.90,263.07 L78.50,262.43 L79.10,261.79 L79.70,261.17 L80.30,260.56 L80.90,259.96 L81.50,259.37 L82.10,258.79 L82.70,258.22 L83.30,257.66 L83.90,257.10 L84.50,256.56 L85.10,256.03 L85.70,255.51 L86.30,254.99 L86.90,254.49 L87.50,253.99 L88.10,253.51 L88.70,253.03 L89.30,252.56 L89.90,252.09 L90.50,251.64 L91.10,251.19 L91.70,250.75 L92.30,250.32 L92.90,249.90 L93.50,249.48 L94.10,249.07 L94.70,248.67 L95.30,248.27 L95.90,247.89 L96.50,247.50 L97.10,247.13 L97.70,246.76 L98.30,246.40 L98.90,246.04 L99.50,245.69 L100.10,245.35 L100.70,245.01 L101.30,244.68 L101.90,244.35 L102.50,244.03 L103.10,243.72 L103.70,243.41 L104.30,243.10 L104.90,242.80 L105.50,242.51 L106.40,242.40 L107.00,243.30 L106.50,244.53 L106.90,248.34 L107.30,251.69 L107.70,254.65 L108.10,257.30 L108.50,259.68 L108.90,261.85 L109.30,263.84 L109.70,265.67 L110.10,267.38 L110.50,268.98 L110.90,270.48 L111.30,271.90 L111.70,273.25 L112.10,274.54 L112.50,275.77 L112.90,276.96 L113.30,278.10 L113.70,279.20 L114.10,280.26 L114.50,281.29 L114.90,282.29 L115.30,283.26 L115.70,284.20 L116.10,285.12 L116.50,286.01 L116.90,286.88 L117.30,287.72 L117.70,288.55 L118.10,289.35 L118.50,290.13 L118.90,290.89 L119.31,291.64 L119.74,292.36 L120.16,293.07 L120.58,293.76 L121.01,294.43 L121.43,295.09 L121.86,295.73 L122.28,296.36 L122.70,296.97 L123.13,297.56 L123.55,298.14 L123.98,298.71 L124.40,299.26 L124.82,299.81 L125.25,300.33 L125.67,300.85 L126.10,301.35 L126.52,301.84 L126.94,302.32 L127.37,302.79 L127.79,303.24 L128.22,303.69 L128.64,304.12 L129.06,304.54 L129.49,304.96 L129.91,305.36 L130.34,305.76 L130.76,306.14 L131.18,306.52 L131.61,306.88 L132.03,307.24 L132.46,307.59 L132.88,307.93 L133.30,308.26 L133.73,308.59 L134.15,308.91 L134.58,309.21 L135.00,309.52 L135.40,309.81 L135.80,310.10 L136.20,310.38 L136.60,310.65 L137.00,310.92 L137.40,311.18 L137.80,311.44 L138.20,311.69 L138.60,311.93 L139.00,312.17 L139.40,312.40 L139.80,312.62 L140.20,312.84 L140.60,313.06 L141.00,313.27 L141.40,313.47 L141.80,313.67 L142.20,313.87 L142.60,314.06 L143.00,314.24 L143.40,314.43 L143.80,314.60 L144.20,314.78 L144.60,314.94 L145.00,315.11 L145.40,315.27 L145.80,315.43 L146.20,315.58 L146.60,315.73 L147.00,315.87 L147.40,316.02 L147.80,316.16 L148.20,316.29 L148.60,316.42 L149.00,316.55 L149.40,316.68 L149.80,316.80 L150.20,316.92 L150.60,317.04 L151.00,317.15 L151.40,317.27 L151.80,317.38 L152.20,317.48 L152.60,317.59 L153.00,317.69 L153.40,317.79 L153.80,317.88 L154.20,317.98 L154.60,318.07 L155.00,318.16 L155.40,318.25 L155.80,318.33 L156.00,318.37" fill="none" stroke="#a0a0a0" stroke-width="0.9" stroke-linejoin="round"/>
<path d="M51.10,341.60 L51.35,337.60 L51.60,333.93 L51.85,330.58 L52.10,327.51 L52.35,324.68 L52.60,322.09 L52.85,319.69 L53.10,317.49 L53.35,315.45 L53.60,313.56 L53.85,311.81 L54.10,310.18 L54.35,308.66 L54.60,307.24 L54.85,305.91 L55.10,304.67 L55.35,303.50 L55.60,302.40 L55.85,301.36 L56.10,300.37 L56.35,299.44 L56.60,298.55 L56.85,297.70 L57.10,296.89 L57.35,296.12 L57.60,295.37 L57.75,294.94 L58.60,294.90 L59.80,294.40 L106.10,287.30 L106.60,282.00 L107.00,281.50 L107.40,284.94 L107.65,296.11 L107.90,304.38 L108.15,310.52 L108.40,315.11 L108.65,318.55 L108.90,321.14 L109.15,323.11 L109.40,324.61 L109.65,325.78 L109.90,326.69 L110.15,327.42 L110.40,328.00 L110.65,328.47 L110.90,328.87 L111.15,329.20 L111.40,329.49 L111.65,329.74 L111.90,329.95 L112.15,330.15 L112.40,330.32 L112.65,330.48 L112.90,330.63 L113.15,330.76 L113.40,330.89 L113.65,331.00 L113.90,331.11 L114.15,331.21 L114.40,331.31 L114.65,331.39 L114.90,331.48 L115.15,331.56 L115.40,331.63 L115.65,331.70 L115.90,331.76 L116.15,331.82 L116.40,331.88 L116.65,331.94 L116.90,331.99 L117.15,332.04 L117.40,332.08 L117.65,332.13 L117.90,332.17 L118.15,332.21 L118.40,332.24 L118.65,332.28 L118.90,332.31 L119.15,332.34 L119.40,332.37 L119.65,332.40 L119.90,332.42 L120.15,332.45 L120.40,332.47 L120.65,332.49 L120.90,332.51 L121.15,332.53 L121.40,332.55 L121.65,332.56 L121.90,332.58 L122.15,332.60 L122.40,332.61 L122.65,332.62 L122.90,332.64 L123.15,332.65 L123.40,332.66 L123.65,332.67 L123.90,332.68 L124.15,332.69 L124.40,332.70 L124.65,332.71 L124.90,332.72 L125.15,332.72 L125.40,332.73 L125.65,332.74 L125.90,332.74 L126.15,332.75 L126.40,332.75 L126.65,332.76 L126.90,332.77 L127.15,332.77 L127.40,332.77 L127.65,332.78 L127.90,332.78 L128.15,332.79 L128.40,332.79 L128.65,332.79 L128.90,332.80 L129.15,332.80 L129.40,332.80 L129.65,332.80 L129.90,332.81 L130.15,332.81 L130.40,332.81 L130.65,332.81 L130.90,332.82 L131.15,332.82 L131.40,332.82 L131.65,332.82 L131.90,332.82 L132.15,332.82 L132.40,332.83 L132.65,332.83 L132.90,332.83 L133.15,332.83 L133.40,332.83 L133.65,332.83 L133.90,332.83 L134.15,332.83 L134.40,332.83 L134.65,332.84 L134.90,332.84 L135.15,332.84 L135.40,332.84 L135.65,332.84 L135.90,332.84 L136.15,332.84 L136.40,332.84 L136.65,332.84 L136.90,332.84 L137.15,332.84 L137.40,332.84 L137.65,332.84 L137.90,332.84 L138.15,332.84 L138.40,332.84 L138.65,332.84 L138.90,332.84 L139.15,332.84 L139.40,332.84 L139.65,332.85 L139.90,332.85 L140.15,332.85 L140.40,332.85 L140.65,332.85 L140.90,332.85 L141.15,332.85 L141.40,332.85 L141.65,332.85 L141.90,332.85 L142.15,332.85 L142.40,332.85 L142.65,332.85 L142.90,332.85 L143.15,332.85 L143.40,332.85 L143.65,332.85 L143.90,332.85 L144.15,332.85 L144.40,332.85 L144.65,332.85 L144.90,332.85 L145.15,332.85 L145.40,332.85 L145.65,332.85 L145.90,332.85 L146.15,332.85 L146.40,332.85 L146.65,332.85 L146.90,332.85 L147.15,332.85 L147.40,332.85 L147.65,332.85 L147.90,332.85 L148.15,332.85 L148.40,332.85 L148.65,332.85 L148.90,332.85 L149.15,332.85 L149.40,332.85 L149.65,332.85 L149.90,332.85 L150.15,332.85 L150.40,332.85 L150.65,332.85 L150.90,332.85 L151.15,332.85 L151.40,332.85 L151.65,332.85 L151.90,332.85 L152.15,332.85 L152.40,332.85 L152.65,332.85 L152.90,332.85 L153.15,332.85 L153.40,332.85 L153.65,332.85 L153.90,332.85 L154.15,332.85 L154.40,332.85 L154.65,332.85 L154.90,332.85 L155.15,332.85 L155.40,332.85 L155.65,332.85 L155.90,332.85 L156.15,332.85 L156.40,332.85 L156.65,332.85 L156.90,332.85" fill="none" stroke="#8c8c8c" stroke-width="1.1" stroke-linejoin="round"/>
<path d="M59.6,293.9 L105.9,285.8" fill="none" stroke="#111" stroke-width="1.4" stroke-dasharray="2.5,2.9" stroke-dashoffset="-1"/>
<path d="M112.5,332.3 L156.9,332.9" fill="none" stroke="#333" stroke-width="1" stroke-dasharray="2.4,1.6"/>
<path d="M51.10,341.60 L51.35,337.60 L51.60,333.96 L51.85,330.63 L52.10,327.57 L52.35,324.77 L52.60,322.20 L52.85,319.82 L53.10,317.63 L53.35,315.59 L53.60,313.71 L53.85,311.95 L54.10,310.31 L54.35,308.77 L54.60,307.33 L54.85,305.97 L55.10,304.69 L55.35,303.48 L55.60,302.33 L55.85,301.24 L56.00,300.61 L56.30,299.39 L56.90,297.14 L57.50,295.08 L58.10,293.17 L58.70,291.39 L59.30,289.70 L59.90,288.10 L60.50,286.57 L61.10,285.10 L61.70,283.67 L62.30,282.29 L62.90,280.96 L63.50,279.65 L64.10,278.38 L64.70,277.14 L65.30,275.93 L65.90,274.74 L66.50,273.58 L67.10,272.45 L67.70,271.34 L68.30,270.25 L68.90,269.18 L69.50,268.13 L70.10,267.11 L70.70,266.10 L71.30,265.11 L71.90,264.15 L72.50,263.20 L73.10,262.27 L73.70,261.36 L74.30,260.46 L74.90,259.59 L75.50,258.73 L76.10,257.89 L76.70,257.06 L77.30,256.25 L77.90,255.45 L78.50,254.67 L79.10,253.91 L79.70,253.16 L80.30,252.42 L80.90,251.70 L81.50,250.99 L82.10,250.30 L82.70,249.62 L83.30,248.95 L83.90,248.30 L84.50,247.66 L85.10,247.03 L85.70,246.41 L86.30,245.80 L86.90,245.21 L87.50,244.63 L88.10,244.06 L88.70,243.50 L89.30,242.95 L89.90,242.41 L90.50,241.88 L91.10,241.36 L91.70,240.85 L92.30,240.35 L92.90,239.87 L93.50,239.39 L94.10,238.92 L94.70,238.46 L95.30,238.00 L95.90,237.56 L96.50,237.12 L97.10,236.70 L97.70,236.28 L98.30,235.87 L98.90,235.47 L99.50,235.07 L100.10,234.69 L100.70,234.31 L101.30,233.93 L101.90,233.57 L102.50,233.21 L103.10,232.86 L103.70,232.52 L104.30,232.18 L104.90,231.85 L105.50,231.52 L105.95,231.20 L106.40,232.70 L106.80,236.02 L107.20,239.16 L107.60,242.13 L108.00,244.95 L108.40,247.62 L108.80,250.15 L109.20,252.55 L109.60,254.84 L110.00,257.01 L110.40,259.08 L110.80,261.05 L111.20,262.93 L111.60,264.72 L112.00,266.43 L112.40,268.06 L112.80,269.63 L113.20,271.13 L113.60,272.56 L114.00,273.94 L114.40,275.26 L114.80,276.52 L115.20,277.74 L115.60,278.92 L116.00,280.04 L116.40,281.13 L116.80,282.18 L117.20,283.19 L117.60,284.17 L118.00,285.11 L118.40,286.03 L118.80,286.91 L119.20,287.77 L119.60,288.60 L120.00,289.40 L120.40,290.18 L120.80,290.94 L121.20,291.68 L121.60,292.39 L122.00,293.09 L122.40,293.76 L122.80,294.42 L123.20,295.07 L123.60,295.69 L124.00,296.30 L124.40,296.90 L124.80,297.48 L125.20,298.04 L125.60,298.60 L126.00,299.14 L126.40,299.66 L126.80,300.18 L127.20,300.69 L127.60,301.18 L128.00,301.66 L128.40,302.14 L128.80,302.60 L129.20,303.05 L129.60,303.50 L130.00,303.93 L130.40,304.36 L130.80,304.78 L131.20,305.19 L131.60,305.59 L132.00,305.98 L132.40,306.37 L132.80,306.75 L133.20,307.12 L133.60,307.49 L134.00,307.85 L134.40,308.20 L134.80,308.54 L135.20,308.88 L135.60,309.22 L136.00,309.54 L136.40,309.87 L136.80,310.18 L137.20,310.49 L137.60,310.80 L138.00,311.10 L138.40,311.39 L138.80,311.68 L139.20,311.96 L139.60,312.24 L140.00,312.52 L140.40,312.79 L140.80,313.05 L141.20,313.32 L141.60,313.57 L142.00,313.82 L142.40,314.07 L142.80,314.32 L143.20,314.56 L143.60,314.79 L144.00,315.02 L144.40,315.25 L144.80,315.48 L145.20,315.70 L145.60,315.91 L146.00,316.13 L146.40,316.34 L146.80,316.54 L147.20,316.74 L147.60,316.94 L148.00,317.14 L148.40,317.33 L148.80,317.52 L149.20,317.71 L149.60,317.89 L150.00,318.08 L150.40,318.25 L150.80,318.43 L151.20,318.60 L151.60,318.77 L152.00,318.94 L152.40,319.10 L152.80,319.26 L153.20,319.42 L153.60,319.58 L154.00,319.73 L154.40,319.88 L154.80,320.03 L155.20,320.18 L155.60,320.32 L156.00,320.46 L156.40,320.60 L156.70,320.70" fill="none" stroke="#151515" stroke-width="1.35" stroke-linejoin="round"/>
<path d="M44,341.7 L51.3,341.7" fill="none" stroke="#222" stroke-width="1.3"/>
<path d="M51.2,337 L51.2,348.5" fill="none" stroke="#333" stroke-width="1" stroke-dasharray="2,1.5"/>
<line x1="176.1" y1="276.0" x2="184.4" y2="276.0" stroke="#222" stroke-width="1.4" stroke-dasharray="2.8,2.8"/>
<line x1="175.7" y1="284.3" x2="186.7" y2="284.3" stroke="#a0a0a0" stroke-width="1"/>
<line x1="176.1" y1="292.8" x2="186.7" y2="292.8" stroke="#222" stroke-width="1.6"/>
<line x1="176.1" y1="301.8" x2="186.7" y2="301.8" stroke="#8c8c8c" stroke-width="1.3"/>
<text x="189.5" y="277.3" font-size="10.0" fill="#1a1a1a">B7H6+isotype control</text>
<text x="189.5" y="286.7" font-size="10.0" fill="#1a1a1a">B7H6+17B1.3</text>
<text x="189.5" y="295.6" font-size="10.0" fill="#1a1a1a">B7H6+4E5.5</text>
<text x="189.5" y="304.5" font-size="10.0" fill="#1a1a1a">B7H6</text>
</svg>
</body></html>
